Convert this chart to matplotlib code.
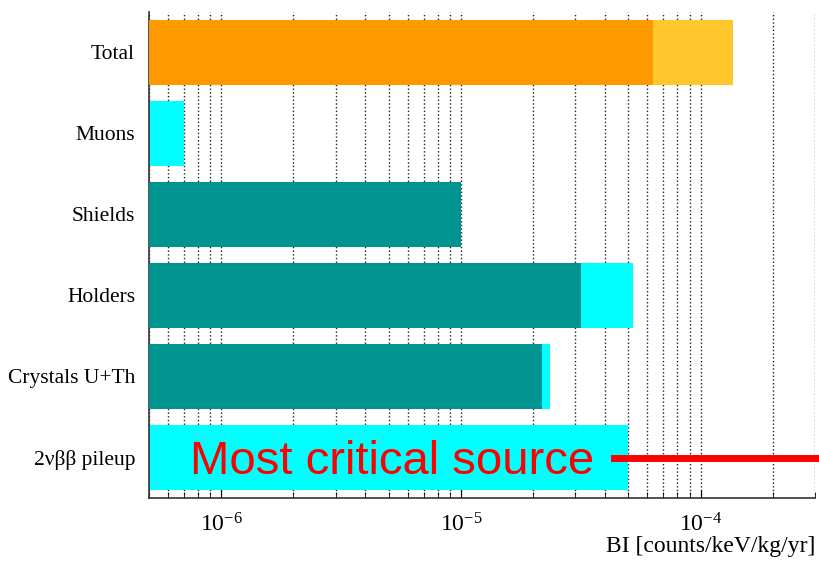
import matplotlib
matplotlib.use("Agg")
import matplotlib.pyplot as plt
from matplotlib.ticker import LogLocator, NullFormatter

# background index per source, counts/keV/kg/yr
categories = ["Total", "Muons", "Shields", "Holders", "Crystals U+Th", "2νββ pileup"]
full_values = [1.36e-4, 7.0e-7, 1.0e-5, 5.2e-5, 2.36e-5, 5.0e-5]
part_values = [6.3e-5, None, 1.0e-5, 3.16e-5, 2.17e-5, None]

full_colors = ["#ffc72c", "#00ffff", "#009490", "#00ffff", "#00ffff", "#00ffff"]
part_colors = ["#ff9900", None, "#009490", "#009490", "#009490", None]

x_min, x_max = 5e-7, 3e-4

plt.rcParams["font.family"] = ["Liberation Serif", "DejaVu Serif"]
plt.rcParams["mathtext.fontset"] = "stix"

fig = plt.figure(figsize=(8.2, 5.63), dpi=100)
ax = fig.add_axes([0.1817, 0.1155, 0.8122, 0.8632])

rows = list(range(len(categories)))
widths_full = [v - x_min for v in full_values]
ax.barh(rows, widths_full, left=x_min, height=0.8, color=full_colors, zorder=2)

for row, val, col in zip(rows, part_values, part_colors):
    if val is None:
        continue
    ax.barh(row, val - x_min, left=x_min, height=0.8, color=col, zorder=3)

ax.set_xscale("log")
ax.set_xlim(x_min, x_max)
ax.set_ylim(len(categories) - 0.5, -0.5)
ax.set_yticks(rows)
ax.set_yticklabels(categories, fontsize=15.5)

ax.xaxis.set_major_locator(LogLocator(base=10))
ax.xaxis.set_minor_locator(LogLocator(base=10, subs=range(2, 10)))
ax.xaxis.set_minor_formatter(NullFormatter())
ax.tick_params(axis="x", which="major", direction="in", length=6, labelsize=17, pad=11)
ax.tick_params(axis="x", which="minor", direction="in", length=4)
ax.tick_params(axis="y", length=0, pad=10)

ax.grid(which="both", axis="x", linestyle=":", color="#222222", linewidth=1.0, zorder=0)
ax.set_axisbelow(True)

for side in ["top", "right"]:
    ax.spines[side].set_visible(False)
for side in ["left", "bottom"]:
    ax.spines[side].set_color("#333333")
    ax.spines[side].set_linewidth(1.2)

ax.set_xlabel("BI [counts/keV/kg/yr]", fontsize=17, loc="right", labelpad=0)

# highlight on the pileup row
fig.text(0.232, 0.158, "Most critical source", color="#ff0000", fontsize=34,
         family=["Liberation Sans", "DejaVu Sans"], va="baseline", ha="left", zorder=5)
fig.add_artist(plt.Line2D([0.749, 1.0], [0.1865, 0.1865], color="#ff0000",
                          linewidth=5, transform=fig.transFigure))

fig.savefig("out.png", dpi=100)
